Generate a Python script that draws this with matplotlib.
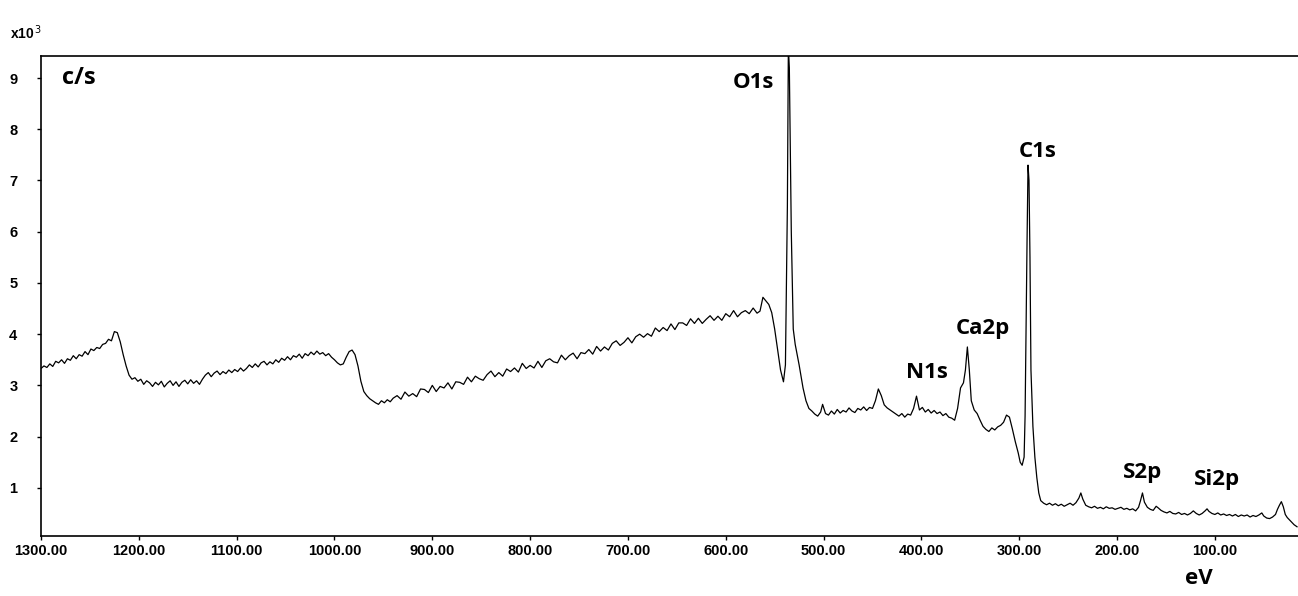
import matplotlib
matplotlib.use("Agg")
import matplotlib.pyplot as plt

# XPS survey spectrum: (binding energy eV, counts in 10^3 c/s)
spectrum = [
    (1300, 3.33), (1297, 3.38), (1294, 3.35), (1291, 3.42), (1288, 3.37), (1285, 3.47),
    (1282, 3.44), (1279, 3.50), (1276, 3.43), (1273, 3.52), (1270, 3.49), (1267, 3.58),
    (1264, 3.52), (1261, 3.60), (1258, 3.57), (1255, 3.66), (1252, 3.60), (1249, 3.71),
    (1246, 3.68), (1243, 3.74), (1240, 3.72), (1237, 3.80), (1234, 3.82), (1231, 3.90),
    (1228, 3.87), (1225, 4.05), (1222, 4.03), (1219, 3.85), (1216, 3.60), (1213, 3.38),
    (1210, 3.20), (1207, 3.12), (1204, 3.15), (1201, 3.08), (1198, 3.12), (1195, 3.02),
    (1192, 3.09), (1189, 3.05), (1186, 2.98), (1183, 3.06), (1180, 3.01), (1177, 3.08),
    (1174, 2.97), (1171, 3.04), (1168, 3.09), (1165, 3.00), (1162, 3.07), (1159, 2.98),
    (1156, 3.06), (1153, 3.10), (1150, 3.03), (1147, 3.11), (1144, 3.04), (1141, 3.09),
    (1138, 3.02), (1135, 3.12), (1132, 3.20), (1129, 3.25), (1126, 3.17), (1123, 3.24),
    (1120, 3.28), (1117, 3.21), (1114, 3.27), (1111, 3.23), (1108, 3.30), (1105, 3.25),
    (1102, 3.31), (1099, 3.27), (1096, 3.34), (1093, 3.28), (1090, 3.33), (1087, 3.40),
    (1084, 3.35), (1081, 3.42), (1078, 3.36), (1075, 3.44), (1072, 3.47), (1069, 3.40),
    (1066, 3.46), (1063, 3.42), (1060, 3.50), (1057, 3.45), (1054, 3.53), (1051, 3.49),
    (1048, 3.56), (1045, 3.50), (1042, 3.58), (1039, 3.55), (1036, 3.61), (1033, 3.53),
    (1030, 3.62), (1027, 3.58), (1024, 3.65), (1021, 3.60), (1018, 3.67), (1015, 3.61),
    (1012, 3.64), (1009, 3.58), (1006, 3.62), (1003, 3.55), (1000, 3.50), (997, 3.44),
    (994, 3.40), (991, 3.42), (988, 3.55), (985, 3.66), (982, 3.69), (979, 3.60),
    (976, 3.38), (973, 3.08), (970, 2.88), (967, 2.80), (964, 2.74), (961, 2.70),
    (958, 2.66), (955, 2.63), (952, 2.70), (949, 2.66), (946, 2.72), (943, 2.68),
    (940, 2.75), (936, 2.80), (932, 2.73), (928, 2.87), (924, 2.79), (920, 2.84),
    (916, 2.78), (912, 2.93), (908, 2.92), (904, 2.86), (900, 3.00), (896, 2.88),
    (892, 2.98), (888, 2.95), (884, 3.05), (880, 2.93), (876, 3.07), (872, 3.06),
    (868, 3.02), (864, 3.16), (860, 3.07), (856, 3.18), (852, 3.13), (848, 3.10),
    (844, 3.21), (840, 3.28), (836, 3.17), (832, 3.25), (828, 3.18), (824, 3.32),
    (820, 3.27), (816, 3.34), (812, 3.26), (808, 3.43), (804, 3.33), (800, 3.39),
    (796, 3.34), (792, 3.47), (788, 3.35), (784, 3.48), (780, 3.52), (776, 3.46),
    (772, 3.44), (768, 3.59), (764, 3.50), (760, 3.58), (756, 3.63), (752, 3.52),
    (748, 3.64), (744, 3.62), (740, 3.70), (736, 3.61), (732, 3.76), (728, 3.67),
    (724, 3.75), (720, 3.69), (716, 3.82), (712, 3.87), (708, 3.78), (704, 3.84),
    (700, 3.93), (696, 3.83), (692, 3.95), (688, 4.00), (684, 3.94), (680, 4.01),
    (676, 3.96), (672, 4.12), (668, 4.05), (664, 4.13), (660, 4.07), (656, 4.20),
    (652, 4.09), (648, 4.22), (644, 4.22), (640, 4.17), (636, 4.30), (632, 4.21),
    (628, 4.31), (624, 4.21), (620, 4.29), (616, 4.36), (612, 4.27), (608, 4.35),
    (604, 4.27), (600, 4.40), (596, 4.34), (592, 4.46), (588, 4.34), (584, 4.42),
    (580, 4.46), (576, 4.40), (572, 4.51), (568, 4.41), (565, 4.45), (562, 4.72),
    (559, 4.65), (556, 4.58), (553, 4.42), (550, 4.10), (547, 3.70), (544, 3.30),
    (541, 3.07), (539, 3.40), (537, 6.50), (536, 9.60), (535, 9.20), (533, 6.00),
    (531, 4.10), (529, 3.80), (525, 3.40), (521, 2.95), (518, 2.70), (515, 2.55),
    (512, 2.50), (509, 2.44), (506, 2.40), (503, 2.48), (501, 2.63), (498, 2.45),
    (495, 2.42), (492, 2.50), (489, 2.44), (486, 2.53), (483, 2.46), (480, 2.51),
    (477, 2.48), (474, 2.56), (471, 2.50), (468, 2.47), (465, 2.55), (462, 2.52),
    (459, 2.58), (456, 2.51), (453, 2.57), (450, 2.55), (447, 2.70), (444, 2.93),
    (441, 2.80), (438, 2.62), (435, 2.56), (432, 2.52), (429, 2.48), (426, 2.44),
    (423, 2.40), (420, 2.45), (417, 2.38), (414, 2.44), (411, 2.42), (408, 2.55),
    (405, 2.79), (402, 2.52), (399, 2.57), (396, 2.48), (393, 2.53), (390, 2.46),
    (387, 2.51), (384, 2.45), (381, 2.48), (378, 2.41), (375, 2.45), (372, 2.38),
    (369, 2.36), (366, 2.32), (363, 2.55), (360, 2.95), (357, 3.05), (355, 3.30),
    (353, 3.75), (351, 3.30), (349, 2.70), (346, 2.52), (343, 2.45), (340, 2.32),
    (337, 2.20), (334, 2.14), (331, 2.10), (328, 2.17), (325, 2.13), (322, 2.19),
    (319, 2.22), (316, 2.28), (313, 2.42), (310, 2.38), (307, 2.15), (304, 1.90),
    (301, 1.68), (299, 1.50), (297, 1.44), (295, 1.60), (294, 2.40), (292, 5.80),
    (291, 7.30), (290, 7.00), (289, 5.50), (288, 3.30), (286, 2.20), (284, 1.60),
    (282, 1.20), (280, 0.90), (278, 0.75), (275, 0.70), (272, 0.67), (269, 0.70),
    (266, 0.66), (263, 0.69), (260, 0.65), (257, 0.68), (254, 0.64), (251, 0.67),
    (248, 0.70), (245, 0.66), (242, 0.71), (239, 0.80), (237, 0.90), (235, 0.78),
    (232, 0.66), (229, 0.63), (226, 0.61), (223, 0.64), (220, 0.60), (217, 0.62),
    (214, 0.59), (211, 0.63), (208, 0.60), (205, 0.61), (202, 0.58), (199, 0.60),
    (196, 0.62), (193, 0.58), (190, 0.60), (187, 0.57), (184, 0.59), (181, 0.55),
    (178, 0.62), (176, 0.75), (174, 0.90), (172, 0.72), (169, 0.62), (166, 0.58),
    (163, 0.56), (160, 0.64), (158, 0.61), (155, 0.56), (152, 0.53), (149, 0.51),
    (146, 0.54), (143, 0.50), (140, 0.49), (137, 0.52), (134, 0.48), (131, 0.50),
    (128, 0.47), (125, 0.50), (122, 0.55), (119, 0.50), (116, 0.47), (113, 0.50),
    (110, 0.55), (108, 0.59), (106, 0.54), (103, 0.50), (100, 0.48), (97, 0.51),
    (94, 0.47), (91, 0.49), (88, 0.46), (85, 0.48), (82, 0.45), (79, 0.48),
    (76, 0.44), (73, 0.47), (70, 0.45), (67, 0.47), (64, 0.43), (61, 0.46),
    (58, 0.44), (55, 0.47), (52, 0.51), (50, 0.45), (47, 0.41), (44, 0.40),
    (41, 0.43), (38, 0.48), (36, 0.58), (34, 0.66), (32, 0.73), (30, 0.63),
    (28, 0.48), (26, 0.42), (24, 0.38), (22, 0.34), (19, 0.28), (16, 0.24),
]
energy = [e for e, c in spectrum]
counts = [c for e, c in spectrum]

# peak labels and where they sit (eV, 10^3 c/s)
peak_names = ["O1s", "C1s", "Ca2p", "N1s", "S2p", "Si2p"]
peak_pos = [(572, 8.92), (281, 7.56), (337, 4.12), (394, 3.26), (174, 1.29), (98, 1.16)]

x_ticks = [1300, 1200, 1100, 1000, 900, 800, 700, 600, 500, 400, 300, 200, 100]
y_ticks = [1, 2, 3, 4, 5, 6, 7, 8, 9]

label_font = "Open Sans"
tick_font = "Liberation Sans"

fig = plt.figure(figsize=(12.98, 5.96), dpi=100)
ax = fig.add_axes([0.0316, 0.1007, 0.9684, 0.8053])

ax.plot(energy, counts, color="black", linewidth=0.9)
ax.set_xlim(1300, 15)
ax.set_ylim(0.06, 9.43)

ax.set_xticks(x_ticks)
ax.set_xticklabels([f"{v:.2f}" for v in x_ticks], fontfamily=tick_font,
                   fontweight="bold", fontsize=10.5)
ax.set_yticks(y_ticks)
ax.set_yticklabels([str(v) for v in y_ticks], fontfamily=tick_font,
                   fontweight="bold", fontsize=10.5)
ax.tick_params(axis="both", direction="out", length=3, width=1)
ax.tick_params(axis="y", pad=14)
ax.tick_params(axis="x", pad=3)

ax.spines["right"].set_visible(False)
for s in ["left", "bottom", "top"]:
    ax.spines[s].set_linewidth(1.2)

for name, (xp, yp) in zip(peak_names, peak_pos):
    ax.text(xp, yp, name, ha="center", va="center", fontsize=16,
            fontweight="bold", fontfamily=label_font)

ax.text(1279, 9.0, "c/s", ha="left", va="center", fontsize=17,
        fontweight="bold", fontfamily=label_font)
fig.text(0.924, 0.03, "eV", ha="center", va="center", fontsize=16,
         fontweight="bold", fontfamily=label_font)
fig.text(0.008, 0.945, r"x10$^{\,3}$", ha="left", va="center", fontsize=10,
         fontweight="bold", fontfamily=tick_font)

fig.savefig("out.png", dpi=100)
